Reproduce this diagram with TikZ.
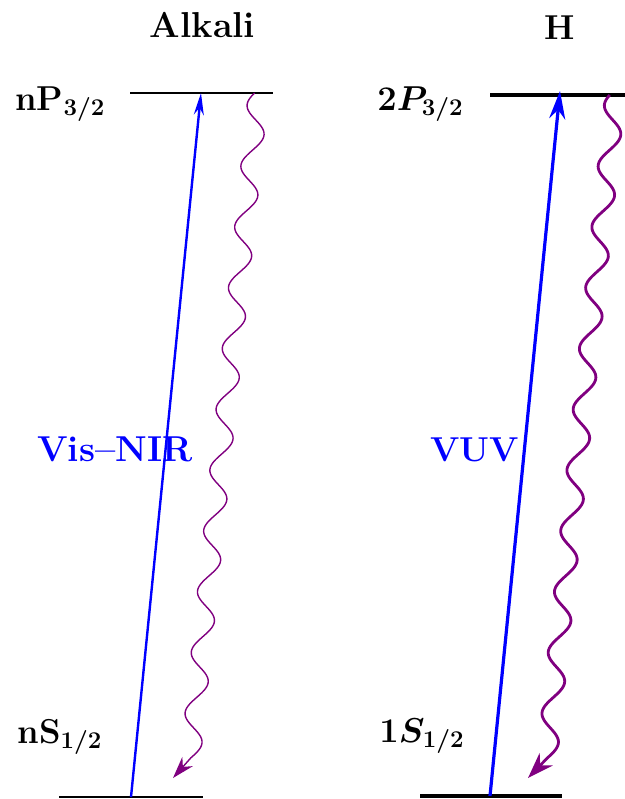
\documentclass[tikz,border=0pt]{standalone}
\usepackage{amsmath}
\usetikzlibrary{arrows.meta}
\definecolor{wavecol}{RGB}{128,0,128}
\begin{document}
\begin{tikzpicture}[x=0.5pt,y=-0.5pt,
  lbl/.style={font=\LARGE\bfseries\boldmath, inner sep=0pt},
  biglbl/.style={font=\fontsize{18}{22}\selectfont\bfseries, inner sep=0pt},
  blbl/.style={biglbl, text=blue},
  lvlA/.style={line width=1.2pt, black},
  lvlH/.style={line width=2pt, black},
  exA/.style={draw=blue, line width=1.2pt, -{Stealth[length=11pt,width=5pt]}},
  exH/.style={draw=blue, line width=1.6pt, -{Stealth[length=14pt,width=8pt]}},
  waveA/.style={draw=wavecol, line width=0.7pt, -{Stealth[length=11pt,width=7pt]}},
  waveH/.style={draw=wavecol, line width=1.4pt, -{Stealth[length=13pt,width=9pt]}}]
\useasboundingbox (0,0) rectangle (625,799);

% titles
\node[biglbl, anchor=base] (tAlk) at (202.5,37) {Alkali};
\node[lbl, anchor=base] (tH) at (560,39) {H};

% level labels
\node[lbl, anchor=base west] (lnP) at (15,110) {nP$_{\mathbf{3/2}}$};
\node[lbl, anchor=base west] (lnS) at (17,743) {nS$_{\mathbf{1/2}}$};
\node[lbl, anchor=base west] (l2P) at (377,110) {$2P_{3/2}$};
\node[lbl, anchor=base west] (l1S) at (379,742) {$1S_{1/2}$};

% transition labels
\node[blbl, anchor=base west] (vis) at (37,461) {Vis--NIR};
\node[lbl, text=blue, anchor=base west] (vuv) at (430,461) {VUV};

% alkali levels
\coordinate (aUL) at (130,93);  \coordinate (aUR) at (273,93);
\coordinate (aLL) at (59,797);  \coordinate (aLR) at (203,797);
\draw[lvlA] (aUL) -- (aUR);
\draw[lvlA] (aLL) -- (aLR);
\coordinate (aLo) at (131,797); \coordinate (aUp) at (201,93);
\draw[exA] (aLo) -- (aUp);
\coordinate (aTip) at (173,778);
\draw[waveA] plot[domain=93:758, samples=400, variable=\s]
  ({252.5-0.102*(\s-150)+10*cos(5.921*(\s-135))}, {\s}) -- (aTip);

% hydrogen levels
\coordinate (hUL) at (490,95);  \coordinate (hUR) at (625,95);
\coordinate (hLL) at (420,796); \coordinate (hLR) at (562,796);
\draw[lvlH] (hUL) -- (hUR);
\draw[lvlH] (hLL) -- (hLR);
\coordinate (hLo) at (490,796); \coordinate (hUp) at (560,91);
\draw[exH] (hLo) -- (hUp);
\coordinate (hTip) at (528,778);
\draw[waveH] plot[domain=95:758, samples=400, variable=\s]
  ({609.5-0.1026*(\s-150)+9.75*cos(5.921*(\s-135))}, {\s}) -- (hTip);
\end{tikzpicture}
\end{document}
